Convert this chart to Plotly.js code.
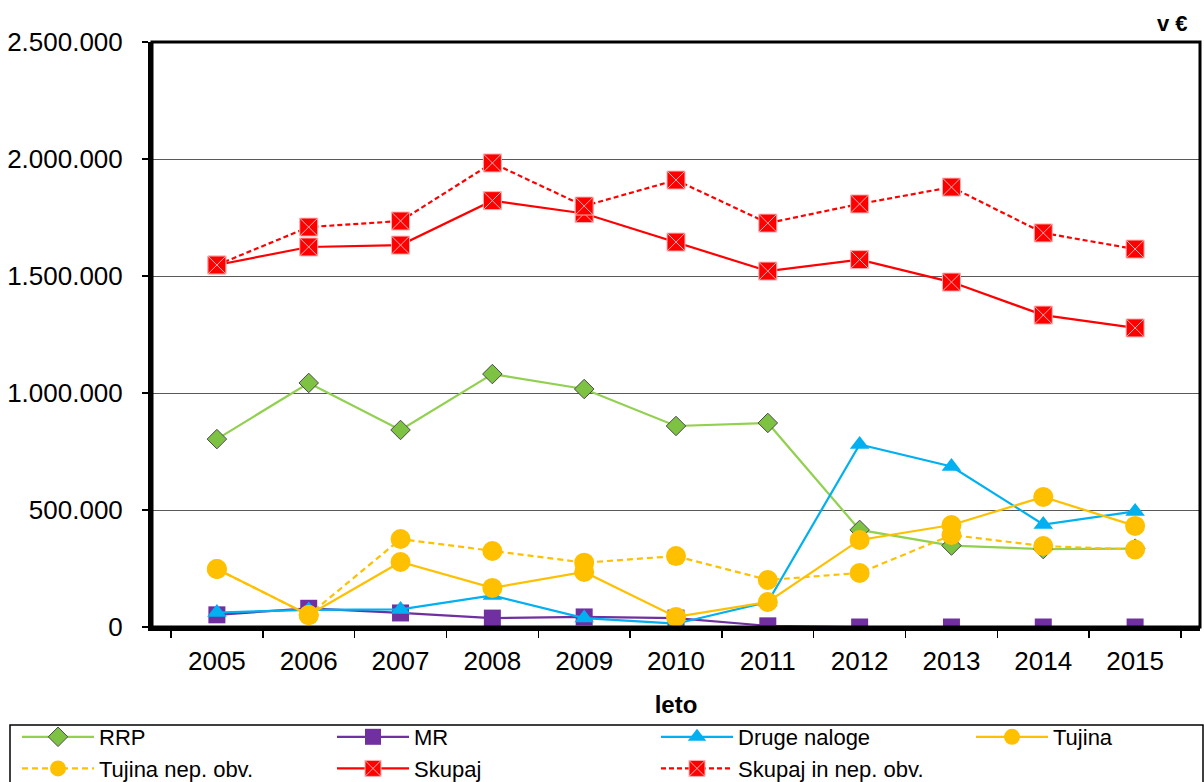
<!DOCTYPE html>
<html>
<head>
<meta charset="utf-8">
<script src="https://cdn.plot.ly/plotly-3.0.1.min.js"></script>
<style>html,body{margin:0;padding:0;background:#fff;}#chart{width:1204px;height:782px;}</style>
</head>
<body>
<div id="chart"></div>
<script>
const years = ['2005','2006','2007','2008','2009','2010','2011','2012','2013','2014','2015'];
const rrp = [803000, 1043000, 842000, 1081000, 1017000, 859000, 872000, 415000, 348000, 333000, 335000];
const mr = [52000, 80000, 60000, 38000, 43000, 38000, 5000, 0, 0, 0, 0];
const drugeNaloge = [62000, 73000, 75000, 135000, 38000, 14000, 107000, 780000, 686000, 438000, 494000];
const tujina = [248000, 51000, 278000, 167000, 235000, 43000, 107000, 372000, 436000, 556000, 432000];
const tujinaNep = [248000, 51000, 376000, 325000, 275000, 303000, 201000, 231000, 393000, 346000, 331000];
const skupaj = [1547000, 1624000, 1632000, 1822000, 1767000, 1645000, 1521000, 1570000, 1474000, 1333000, 1278000];
const skupajNep = [1547000, 1709000, 1735000, 1983000, 1799000, 1910000, 1726000, 1808000, 1880000, 1684000, 1615000];

const FONT = 'Liberation Sans, Arial, sans-serif';

const traces = [
  {name:'RRP', x:years, y:rrp, mode:'lines+markers', legend:'legend',
   line:{color:'#92D050', width:2.2},
   marker:{symbol:'diamond', size:15, color:'#7DC242', line:{color:'#4a4a4a', width:1}}},
  {name:'MR', x:years, y:mr, mode:'lines+markers', legend:'legend2',
   line:{color:'#7030A0', width:2.2},
   marker:{symbol:'square', size:17, color:'#7030A0'}},
  {name:'Druge naloge', x:years, y:drugeNaloge, mode:'lines+markers', legend:'legend3',
   line:{color:'#00B0F0', width:2.2},
   marker:{symbol:'triangle-up', size:17, color:'#00B0F0'}},
  {name:'Tujina', x:years, y:tujina, mode:'lines+markers', legend:'legend4',
   line:{color:'#FFC000', width:2.2},
   marker:{symbol:'circle', size:20, color:'#FFC000'}},
  {name:'Tujina nep. obv.', x:years, y:tujinaNep, mode:'lines+markers', legend:'legend',
   line:{color:'#FFC000', width:2.2, dash:'6px,4px'},
   marker:{symbol:'circle', size:20, color:'#FFC000'}},
  {name:'Skupaj', x:years, y:skupaj, mode:'lines+markers', legend:'legend2',
   line:{color:'#FF0000', width:2.2},
   marker:{symbol:'square-x', size:18, color:'#FF0000', line:{color:'#FFB0B0', width:1}}},
  {name:'Skupaj in nep. obv.', x:years, y:skupajNep, mode:'lines+markers', legend:'legend3',
   line:{color:'#FF0000', width:2.2, dash:'5px,3px'},
   marker:{symbol:'square-x', size:18, color:'#FF0000', line:{color:'#FFB0B0', width:1}}}
];

function legendAt(px) {
  return {
    orientation:'v',
    xref:'container', yref:'container',
    x:px/1204, xanchor:'left',
    y:1-716/782, yanchor:'top',
    borderwidth:0,
    bgcolor:'rgba(0,0,0,0)',
    font:{family:FONT, size:22, color:'#000'},
    traceorder:'normal',
    itemwidth:72,
    tracegroupgap:0
  };
}

const layout = {
  width:1204, height:782,
  margin:{l:152, r:4, t:42, b:155, autoexpand:false},
  paper_bgcolor:'#fff', plot_bgcolor:'#fff',
  separators:',.',
  font:{family:FONT, color:'#000', size:24},
  showlegend:true,
  xaxis:{
    type:'category',
    tickson:'boundaries',
    tickangle:0,
    automargin:false,
    ticks:'outside', ticklen:7, tickwidth:1.5, tickcolor:'#000',
    ticklabelstandoff:8,
    showline:true, linecolor:'#000', linewidth:4,
    showgrid:false, zeroline:false,
    tickfont:{family:FONT, size:26, color:'#000'},
    title:{text:'<b>leto</b>', font:{family:FONT, size:24, color:'#000'}, standoff:22}
  },
  yaxis:{
    range:[0, 2500000], dtick:500000, tick0:0,
    tickformat:',d',
    automargin:false,
    ticks:'outside', ticklen:6, tickwidth:1.5, tickcolor:'#000',
    ticklabelstandoff:14,
    showline:true, linecolor:'#000', linewidth:4,
    showgrid:true, gridcolor:'#595959', gridwidth:1,
    zeroline:false,
    tickfont:{family:FONT, size:26, color:'#000'}
  },
  legend:legendAt(17),
  legend2:legendAt(332),
  legend3:legendAt(656),
  legend4:legendAt(971),
  shapes:[
    {type:'rect', xref:'paper', yref:'paper', x0:0, x1:1, y0:0, y1:1,
     line:{color:'#000', width:3}, fillcolor:'rgba(0,0,0,0)', layer:'above'},
    {type:'rect', xref:'paper', yref:'paper',
     x0:(10-152)/1048, x1:(1203-152)/1048, y0:(627-725)/585, y1:(627-800)/585,
     line:{color:'#000', width:1.5}, fillcolor:'rgba(0,0,0,0)', layer:'above'}
  ],
  annotations:[
    {text:'<b>v €</b>', xref:'paper', yref:'paper', x:0.99, y:1, xanchor:'right', yanchor:'bottom',
     yshift:4, showarrow:false, font:{family:FONT, size:22, color:'#000'}}
  ]
};

Plotly.newPlot('chart', traces, layout, {displayModeBar:false, staticPlot:true});
</script>
</body>
</html>
